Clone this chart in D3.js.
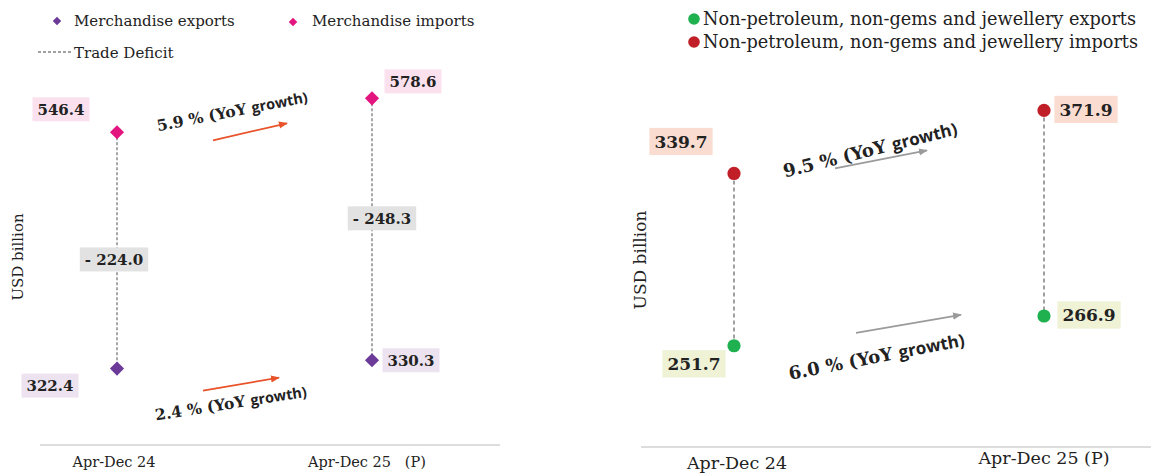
<!DOCTYPE html>
<html>
<head>
<meta charset="utf-8">
<script src="https://cdn.jsdelivr.net/npm/d3@7"></script>
<style>
  body { margin: 0; background: #fff; }
  svg text { font-family: "DejaVu Serif", serif; fill: #222; }
</style>
</head>
<body>
<svg id="chart"></svg>
<script>
// ---- data ----
var periodsLeft = ["Apr-Dec 24", "Apr-Dec 25   (P)"];
var periodsRight = ["Apr-Dec 24", "Apr-Dec 25 (P)"];

var merchExports = [322.4, 330.3];
var merchImports = [546.4, 578.6];
var tradeDeficit = [-224.0, -248.3];

var coreExports = [251.7, 266.9];
var coreImports = [339.7, 371.9];

var merchGrowth = { imports: "5.9", exports: "2.4" };
var coreGrowth = { imports: "9.5", exports: "6.0" };

var legendLeft = ["Merchandise exports", "Merchandise imports", "Trade Deficit"];
var legendRight = ["Non-petroleum, non-gems and jewellery exports", "Non-petroleum, non-gems and jewellery imports"];

// ---- colours ----
var purple = "#6c3a98", magenta = "#e3157f";
var green = "#1fb050", red = "#c11f28";

var svg = d3.select("#chart").attr("width", 1151).attr("height", 473);

var defs = svg.append("defs");
function marker(id, col) {
  defs.append("marker")
    .attr("id", id)
    .attr("viewBox", "0 0 10 10")
    .attr("refX", 9).attr("refY", 5)
    .attr("markerWidth", 5).attr("markerHeight", 5)
    .attr("orient", "auto")
    .append("path").attr("d", "M0,1 L10,5 L0,9 z").attr("fill", col);
}
marker("arrOrange", "#e8532b");
marker("arrGray", "#9b9b9b");

// boxed value label centred on (x, y)
function tag(g, x, y, txt, bg, size) {
  var grp = g.append("g");
  var r = grp.append("rect").attr("fill", bg);
  var t = grp.append("text")
    .attr("x", x).attr("y", y)
    .attr("text-anchor", "middle")
    .attr("dy", "0.36em")
    .style("font-weight", "bold")
    .style("font-size", size + "px")
    .text(txt);
  var b = t.node().getBBox();
  r.attr("x", b.x - 5).attr("y", y - size * 0.8)
    .attr("width", b.width + 10).attr("height", size * 1.6);
}

// rotated growth annotation: serif part + sans "growth)"
function growthText(g, x, y, angle, pct, size) {
  var t = g.append("text")
    .attr("transform", `translate(${x},${y}) rotate(${angle})`)
    .style("font-weight", "bold")
    .style("font-size", size + "px");
  t.append("tspan").text(pct + " % (YoY ");
  t.append("tspan")
    .style("font-family", "'Open Sans', sans-serif")
    .style("font-size", (size - 1) + "px")
    .text("growth)");
}

function arrow(g, x1, y1, x2, y2, col, id) {
  g.append("line")
    .attr("x1", x1).attr("y1", y1).attr("x2", x2).attr("y2", y2)
    .attr("stroke", col).attr("stroke-width", 1.8)
    .attr("marker-end", `url(#${id})`);
}

// =================== LEFT PANEL ===================
var left = svg.append("g");
var xL = d3.scalePoint().domain(periodsLeft).range([117, 372]);
var yL = d3.scaleLinear().domain([250, 650]).range([445, 23]);

// baseline
left.append("line")
  .attr("x1", 40).attr("x2", 500).attr("y1", yL(250)).attr("y2", yL(250))
  .attr("stroke", "#d2d2d2").attr("stroke-width", 1.5);

left.selectAll(".cat").data(periodsLeft).enter().append("text")
  .attr("x", (d, i) => xL(d) - (i ? 5 : 3))
  .attr("y", 467)
  .attr("text-anchor", "middle")
  .style("font-size", "14.5px")
  .style("white-space", "pre")
  .text(d => d);

left.append("text")
  .attr("transform", "translate(23,257) rotate(-90)")
  .attr("text-anchor", "middle")
  .style("font-size", "15px")
  .text("USD billion");

// trade deficit dashed connectors
left.selectAll(".gap").data(periodsLeft).enter().append("line")
  .attr("x1", d => xL(d)).attr("x2", d => xL(d))
  .attr("y1", (d, i) => yL(merchImports[i]))
  .attr("y2", (d, i) => yL(merchExports[i]))
  .attr("stroke", "#6e6e6e").attr("stroke-width", 1.2)
  .attr("stroke-dasharray", "3,2");

var diamond = d3.symbol().type(d3.symbolSquare).size(100);
left.selectAll(".imp").data(periodsLeft).enter().append("path")
  .attr("d", diamond)
  .attr("transform", (d, i) => `translate(${xL(d)},${yL(merchImports[i])}) rotate(45)`)
  .attr("fill", magenta);
left.selectAll(".exp").data(periodsLeft).enter().append("path")
  .attr("d", diamond)
  .attr("transform", (d, i) => `translate(${xL(d)},${yL(merchExports[i])}) rotate(45)`)
  .attr("fill", purple);

// value labels
var p0 = periodsLeft[0], p1 = periodsLeft[1];
tag(left, xL(p0) - 56, yL(merchImports[0]) - 23, merchImports[0].toFixed(1), "#fae1ed", 15);
tag(left, xL(p1) + 41, yL(merchImports[1]) - 17, merchImports[1].toFixed(1), "#fae1ed", 15);
tag(left, xL(p0) - 67, yL(merchExports[0]) + 17, merchExports[0].toFixed(1), "#ede2ef", 15);
tag(left, xL(p1) + 39, yL(merchExports[1]), merchExports[1].toFixed(1), "#ede2ef", 15);
tradeDeficit.forEach(function (v, i) {
  var p = periodsLeft[i];
  var mid = (yL(merchImports[i]) + yL(merchExports[i])) / 2;
  tag(left, xL(p) + (i ? 10 : -3), mid + (i ? -11 : 9), "- " + Math.abs(v).toFixed(1), "#e2e2e2", 15);
});

// growth annotations
var yi0 = yL(merchImports[0]), ye0 = yL(merchExports[0]), x0 = xL(p0);
arrow(left, x0 + 96, yi0 + 8, x0 + 170, yi0 - 9, "#e8532b", "arrOrange");
growthText(left, x0 + 41, yi0 - 1, -11, merchGrowth.imports, 15.5);
arrow(left, x0 + 86, ye0 + 22, x0 + 162, ye0 + 9, "#e8532b", "arrOrange");
growthText(left, x0 + 39, ye0 + 52, -9, merchGrowth.exports, 15.5);

// legend
var lg = left.append("g");
lg.append("path").attr("d", d3.symbol().type(d3.symbolSquare).size(36))
  .attr("transform", "translate(57,21) rotate(45)").attr("fill", purple);
lg.append("text").attr("x", 74).attr("y", 26).style("font-size", "15px").text(legendLeft[0]);
lg.append("path").attr("d", d3.symbol().type(d3.symbolSquare).size(36))
  .attr("transform", "translate(293,22) rotate(45)").attr("fill", magenta);
lg.append("text").attr("x", 312).attr("y", 26).style("font-size", "15px").text(legendLeft[1]);
lg.append("line").attr("x1", 38).attr("x2", 73).attr("y1", 52).attr("y2", 52)
  .attr("stroke", "#444").attr("stroke-dasharray", "3,2");
lg.append("text").attr("x", 74).attr("y", 58).style("font-size", "15px").text(legendLeft[2]);

// =================== RIGHT PANEL ===================
var right = svg.append("g");
var xR = d3.scalePoint().domain(periodsRight).range([734, 1044]);
var yR = d3.scaleLinear().domain([200, 400]).range([447, 55.4]);

right.append("line")
  .attr("x1", 641).attr("x2", 1151).attr("y1", yR(200)).attr("y2", yR(200))
  .attr("stroke", "#d2d2d2").attr("stroke-width", 1.5);

right.selectAll(".cat").data(periodsRight).enter().append("text")
  .attr("x", (d, i) => xR(d) + (i ? 0 : 3))
  .attr("y", (d, i) => i ? 464 : 469)
  .attr("text-anchor", "middle")
  .style("font-size", "17.5px")
  .text(d => d);

right.append("text")
  .attr("transform", "translate(646,260) rotate(-90)")
  .attr("text-anchor", "middle")
  .style("font-size", "17px")
  .text("USD billion");

right.selectAll(".gap").data(periodsRight).enter().append("line")
  .attr("x1", d => xR(d)).attr("x2", d => xR(d))
  .attr("y1", (d, i) => yR(coreImports[i]))
  .attr("y2", (d, i) => yR(coreExports[i]))
  .attr("stroke", "#6e6e6e").attr("stroke-width", 1.3)
  .attr("stroke-dasharray", "4,3");

right.selectAll(".imp").data(periodsRight).enter().append("circle")
  .attr("cx", d => xR(d)).attr("cy", (d, i) => yR(coreImports[i]))
  .attr("r", 6.6).attr("fill", red);
right.selectAll(".exp").data(periodsRight).enter().append("circle")
  .attr("cx", d => xR(d)).attr("cy", (d, i) => yR(coreExports[i]))
  .attr("r", 6.6).attr("fill", green);

var q0 = periodsRight[0], q1 = periodsRight[1];
tag(right, xR(q0) - 53, yR(coreImports[0]) - 32, coreImports[0].toFixed(1), "#fadcd1", 17);
tag(right, xR(q1) + 42, yR(coreImports[1]) - 1, coreImports[1].toFixed(1), "#fadcd1", 17);
tag(right, xR(q0) - 40, yR(coreExports[0]) + 18, coreExports[0].toFixed(1), "#eff2d5", 17);
tag(right, xR(q1) + 45, yR(coreExports[1]) - 1, coreExports[1].toFixed(1), "#eff2d5", 17);

var ri0 = yR(coreImports[0]), re0 = yR(coreExports[0]), r0 = xR(q0);
arrow(right, r0 + 101, ri0 - 5, r0 + 193, ri0 - 23, "#9b9b9b", "arrGray");
growthText(right, r0 + 51, ri0 + 4, -14, coreGrowth.imports, 18);
arrow(right, r0 + 122, re0 - 13, r0 + 227, re0 - 31, "#9b9b9b", "arrGray");
growthText(right, r0 + 56, re0 + 34, -11, coreGrowth.exports, 18);

var rg = right.append("g");
rg.append("circle").attr("cx", 694).attr("cy", 19).attr("r", 5.8).attr("fill", green);
rg.append("text").attr("x", 703).attr("y", 25).style("font-size", "17.7px").text(legendRight[0]);
rg.append("circle").attr("cx", 694).attr("cy", 42).attr("r", 5.8).attr("fill", red);
rg.append("text").attr("x", 703).attr("y", 48).style("font-size", "17.7px").text(legendRight[1]);
</script>
</body>
</html>
